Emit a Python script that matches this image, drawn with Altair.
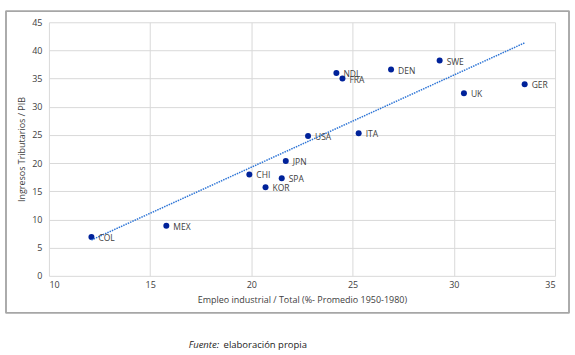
import altair as alt
import pandas as pd

countries = ["COL", "MEX", "CHI", "KOR", "SPA", "JPN", "USA", "ITA", "NDL", "FRA", "DEN", "SWE", "UK", "GER"]
empleo = [12.1, 15.8, 19.9, 20.7, 21.5, 21.7, 22.8, 25.3, 24.2, 24.5, 26.9, 29.3, 30.5, 33.5]
ingresos = [6.9, 8.9, 18.0, 15.7, 17.3, 20.4, 24.8, 25.3, 36.0, 35.0, 36.6, 38.2, 32.4, 34.0]
x_ticks = [10, 15, 20, 25, 30, 35]
y_ticks = [0, 5, 10, 15, 20, 25, 30, 35, 40, 45]

df = pd.DataFrame({"pais": countries, "x": empleo, "y": ingresos})

W, H = 507, 254
FONT = "Open Sans"

xenc = alt.X("x:Q", scale=alt.Scale(domain=[10, 35], nice=False),
             axis=alt.Axis(values=x_ticks, title="Empleo industrial / Total (%- Promedio 1950-1980)",
                           titleFontWeight="normal", titleFontSize=9, titleColor="#404040", titlePadding=6,
                           labelFontSize=9, labelColor="#404040", labelPadding=5, labelOverlap=False,
                           ticks=False, domain=False, gridColor="#d9d9d9", labelFont=FONT, titleFont=FONT))
yenc = alt.Y("y:Q", scale=alt.Scale(domain=[0, 45], nice=False),
             axis=alt.Axis(values=y_ticks, title="Ingresos Tributarios / PIB",
                           titleFontWeight="normal", titleFontSize=9, titleColor="#404040", titlePadding=5,
                           labelFontSize=9, labelColor="#404040", labelPadding=7, labelOverlap=False,
                           ticks=False, domain=False, gridColor="#d9d9d9", labelFont=FONT, titleFont=FONT))

base = alt.Chart(df)
one = alt.datum.pais == "COL"

L, R, T, B = -43, W + 14, -11, H + 37
fdata = alt.Data(values=[{"k": 1}])
fb = alt.Chart(fdata)
frame_rect = fb.mark_rect(fill="#ffffff", fillOpacity=0, stroke="#a6a6a6", strokeWidth=1.5).encode(
    x=alt.value(L), x2=alt.value(R), y=alt.value(T), y2=alt.value(B))
top = fb.mark_rule(color="#a6a6a6", strokeWidth=1.5).encode(x=alt.value(L), x2=alt.value(R), y=alt.value(T))
bottom = fb.mark_rule(color="#a6a6a6", strokeWidth=1.5).encode(x=alt.value(L), x2=alt.value(R), y=alt.value(B))
left = fb.mark_rule(color="#a6a6a6", strokeWidth=1.5).encode(x=alt.value(L), y=alt.value(T), y2=alt.value(B))
right = fb.mark_rule(color="#a6a6a6", strokeWidth=1.5).encode(x=alt.value(R), y=alt.value(T), y2=alt.value(B))

trend = base.transform_regression("x", "y").mark_line(
    color="#2e75d6", strokeWidth=1.5, strokeDash=[1.5, 1]
).encode(x=xenc, y=yenc)

points = base.mark_circle(size=36, color="#00229a", opacity=1).encode(x=xenc, y=yenc)

labels = base.mark_text(align="left", dx=7, dy=1, fontSize=8.5, font=FONT, color="#404040").encode(
    x=xenc, y=yenc, text="pais:N")

cap1 = base.mark_text(align="left", fontSize=9.5, font=FONT, fontStyle="italic", color="#222222").encode(
    x=alt.value(140), y=alt.value(H + 69), text=alt.value("Fuente:")
).transform_filter(one)
cap2 = base.mark_text(align="left", fontSize=9.5, font=FONT, color="#222222").encode(
    x=alt.value(175), y=alt.value(H + 69), text=alt.value("elaboración propia")
).transform_filter(one)

chart = alt.layer(points, trend, labels, cap1, cap2, frame_rect, top, bottom, left, right).properties(
    width=W, height=H,
    padding={"left": 5, "top": 10, "right": 5, "bottom": 5},
).configure_view(strokeWidth=0)

chart.save("out.html", embed_options={"renderer": "svg", "actions": False})
